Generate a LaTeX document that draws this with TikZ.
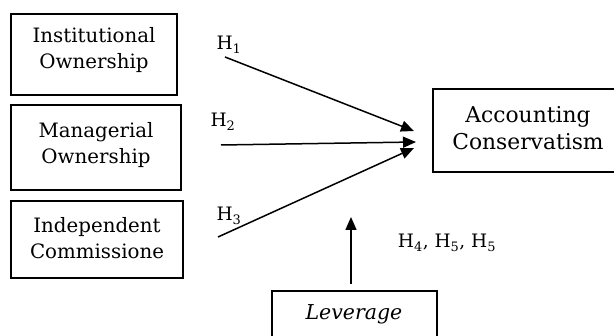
\documentclass[tikz,border=0pt]{standalone}
\usepackage{fontspec}
\setmainfont{DejaVu Serif}
\usetikzlibrary{arrows.meta}
\begin{document}
\begin{tikzpicture}[x=1pt,y=-1pt,
  box/.style={draw,line width=1.6pt,inner sep=0pt},
  lbl/.style={font=\fontsize{19.8}{26}\selectfont,align=center},
  hl/.style={font=\fontsize{18.5}{22}\selectfont},
  arr/.style={line width=1.5pt,-{Triangle[length=13pt,width=11pt]}}]
\useasboundingbox (0,0) rectangle (614,336);
\fill[white] (0,0) rectangle (614,336);
\draw[box] (11,14) rectangle (177,95);
\node[lbl] (io) at (94,50) {Institutional\\Ownership};
\draw[box] (11,105) rectangle (181,190);
\node[lbl] (mo) at (96,145) {Managerial\\Ownership};
\draw[box] (11,201) rectangle (183,278);
\node[lbl] (ic) at (97,238) {Independent\\Commissione};
\draw[box] (433,89) rectangle (616,172);
\node[lbl,font=\fontsize{21.8}{27}\selectfont] (ac) at (528,128) {Accounting\\Conservatism};
\draw[box] (272,291) rectangle (437,340);
\node[lbl,font=\itshape\fontsize{20.5}{24}\selectfont] (lev) at (354,314) {Leverage};
\node[hl] (h1) at (229,45) {H\textsubscript{1}};
\node[hl] (h2) at (223,122) {H\textsubscript{2}};
\node[hl] (h3) at (229,216) {H\textsubscript{3}};
\node[hl] (h4) at (447,243) {H\textsubscript{4}, H\textsubscript{5}, H\textsubscript{5}};
\coordinate (s1) at (225,57);
\coordinate (e1) at (414,131);
\coordinate (s2) at (221,145);
\coordinate (e2) at (416,142);
\coordinate (s3) at (218,237);
\coordinate (e3) at (414,148);
\coordinate (s4) at (351,284);
\coordinate (e4) at (351,217);
\draw[arr] (s1) -- (e1);
\draw[arr] (s2) -- (e2);
\draw[arr] (s3) -- (e3);
\draw[arr] (s4) -- (e4);
\end{tikzpicture}
\end{document}
